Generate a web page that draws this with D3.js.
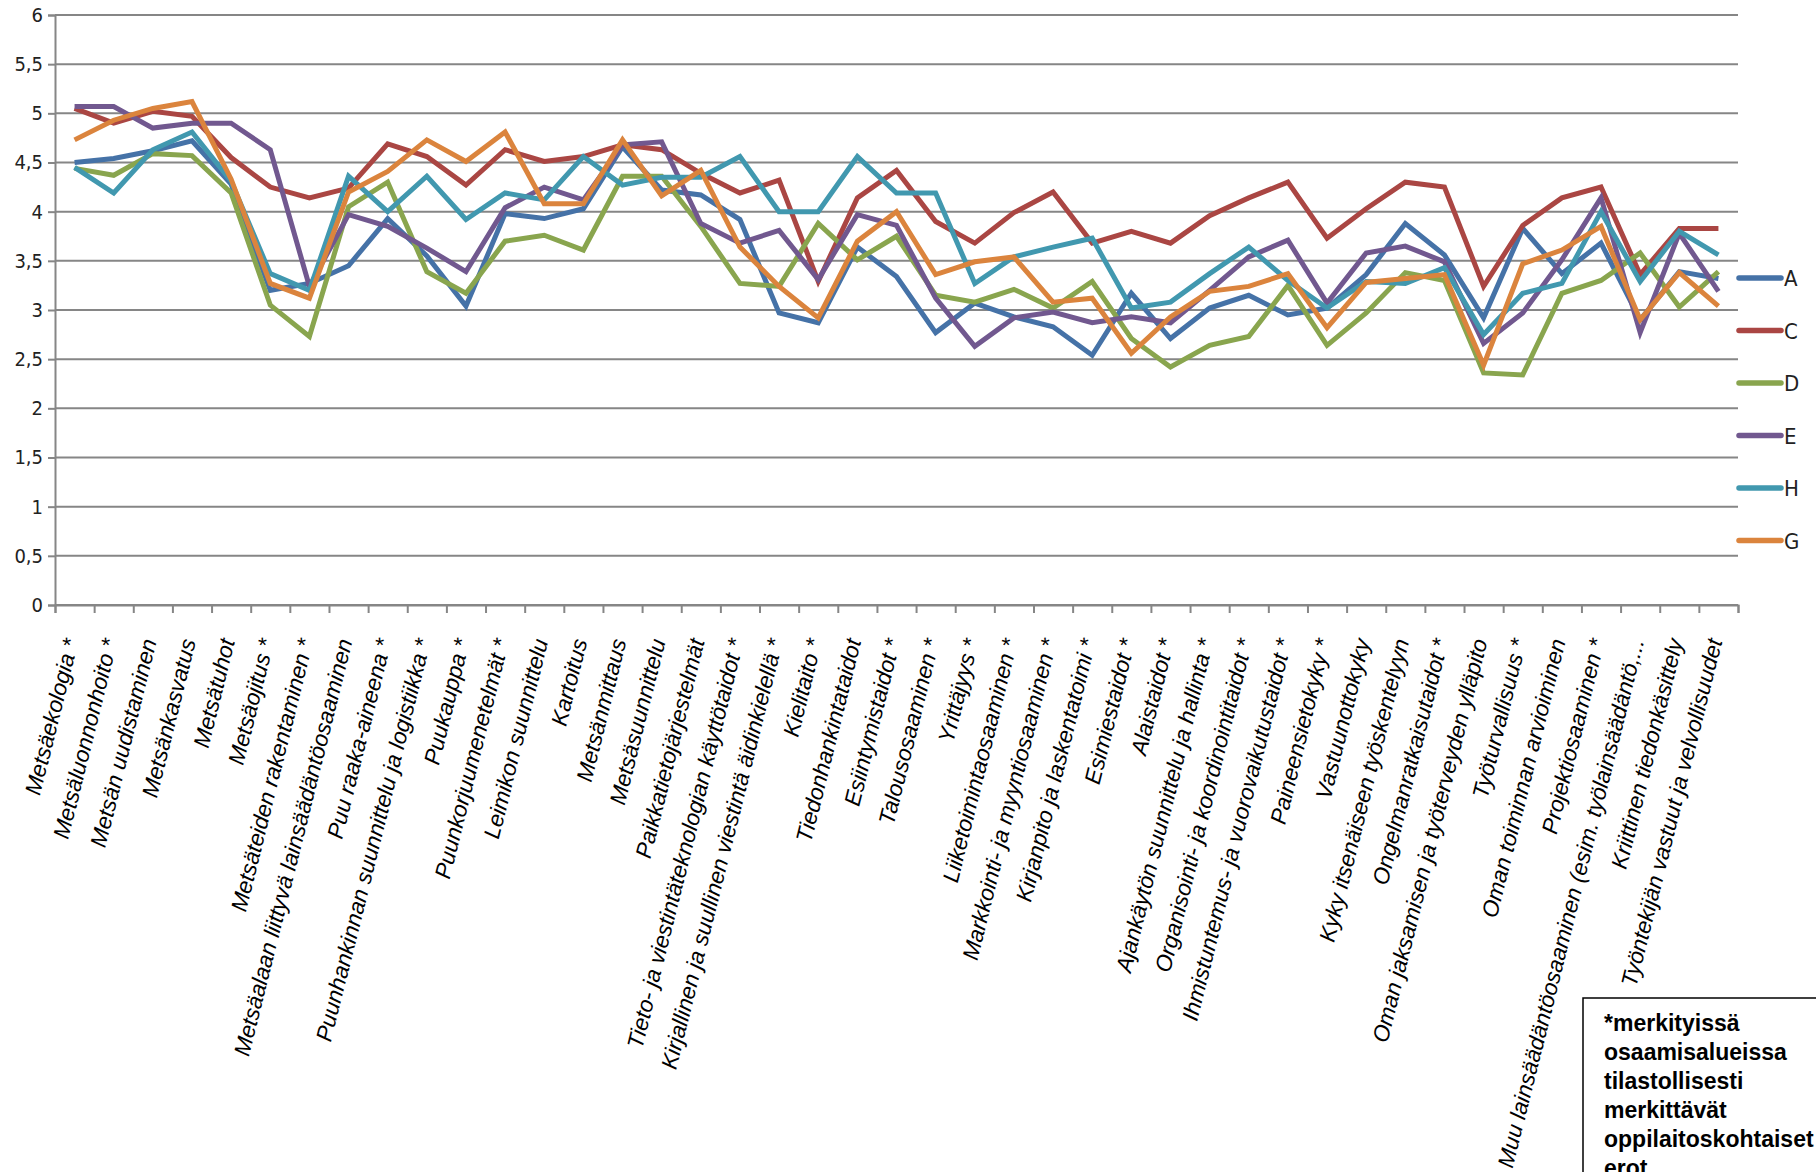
<!DOCTYPE html>
<html>
<head>
<meta charset="utf-8">
<script src="https://cdn.jsdelivr.net/npm/d3@7"></script>
<style>
body { margin: 0; background: #fff; }
</style>
</head>
<body>
<svg id="chart" width="1816" height="1172"></svg>
<script>
// osaamisalueet (x-akseli)
var categories = [
    "Metsäekologia *", "Metsäluonnonhoito *", "Metsän uudistaminen", "Metsänkasvatus",
    "Metsätuhot", "Metsäojitus *", "Metsäteiden rakentaminen *",
    "Metsäalaan liittyvä lainsäädäntöosaaminen", "Puu raaka-aineena *",
    "Puunhankinnan suunnittelu ja logistiikka *", "Puukauppa *", "Puunkorjuumenetelmät *",
    "Leimikon suunnittelu", "Kartoitus", "Metsänmittaus", "Metsäsuunnittelu",
    "Paikkatietojärjestelmät", "Tieto- ja viestintäteknologian käyttötaidot *",
    "Kirjallinen ja suullinen viestintä äidinkielellä *", "Kielitaito *",
    "Tiedonhankintataidot", "Esiintymistaidot *", "Talousosaaminen *", "Yrittäjyys *",
    "Liiketoimintaosaaminen *", "Markkointi- ja myyntiosaaminen *",
    "Kirjanpito ja laskentatoimi *", "Esimiestaidot *", "Alaistaidot *",
    "Ajankäytön suunnittelu ja hallinta *", "Organisointi- ja koordinointitaidot *",
    "Ihmistuntemus- ja vuorovaikutustaidot *", "Paineensietokyky *", "Vastuunottokyky",
    "Kyky itsenäiseen työskentelyyn", "Ongelmanratkaisutaidot *",
    "Oman jaksamisen ja työterveyden ylläpito", "Työturvallisuus *",
    "Oman toiminnan arvioiminen", "Projektiosaaminen *",
    "Muu lainsäädäntöosaaminen (esim. työlainsäädäntö,...",
    "Kriittinen tiedonkäsittely", "Työntekijän vastuut ja velvollisuudet"
];

var valuesA = [4.50, 4.54, 4.62, 4.72, 4.28, 3.20, 3.27, 3.45, 3.93, 3.55, 3.04, 3.98, 3.93, 4.03, 4.66,
    4.22, 4.17, 3.92, 2.97, 2.87, 3.64, 3.34, 2.77, 3.07, 2.93, 2.83, 2.54, 3.17, 2.71, 3.02, 3.15,
    2.95, 3.02, 3.36, 3.88, 3.56, 2.92, 3.83, 3.37, 3.68, 2.90, 3.39, 3.32];
var valuesC = [5.05, 4.90, 5.02, 4.97, 4.55, 4.25, 4.14, 4.24, 4.69, 4.56, 4.27, 4.63, 4.51, 4.56, 4.68,
    4.63, 4.39, 4.19, 4.32, 3.29, 4.14, 4.42, 3.90, 3.68, 3.99, 4.20, 3.68, 3.80, 3.68, 3.96, 4.14,
    4.30, 3.73, 4.03, 4.30, 4.25, 3.24, 3.86, 4.14, 4.25, 3.36, 3.83, 3.83];
var valuesD = [4.44, 4.37, 4.59, 4.57, 4.19, 3.05, 2.73, 4.05, 4.30, 3.39, 3.17, 3.70, 3.76, 3.61, 4.36,
    4.36, 3.85, 3.27, 3.24, 3.88, 3.51, 3.75, 3.15, 3.08, 3.21, 3.02, 3.29, 2.71, 2.42, 2.64, 2.73,
    3.25, 2.64, 2.97, 3.38, 3.30, 2.36, 2.34, 3.17, 3.30, 3.58, 3.03, 3.39];
var valuesE = [5.07, 5.07, 4.85, 4.90, 4.90, 4.63, 3.24, 3.97, 3.85, 3.63, 3.39, 4.04, 4.25, 4.12, 4.68,
    4.71, 3.88, 3.68, 3.81, 3.31, 3.97, 3.86, 3.12, 2.63, 2.92, 2.98, 2.87, 2.93, 2.87, 3.20, 3.54,
    3.71, 3.07, 3.58, 3.65, 3.49, 2.66, 2.97, 3.51, 4.14, 2.77, 3.78, 3.19];
var valuesH = [4.45, 4.19, 4.63, 4.81, 4.31, 3.37, 3.20, 4.36, 4.00, 4.36, 3.92, 4.19, 4.12, 4.56, 4.27,
    4.35, 4.35, 4.56, 4.00, 4.00, 4.56, 4.19, 4.19, 3.27, 3.54, 3.64, 3.73, 3.02, 3.08, 3.37, 3.64,
    3.30, 3.02, 3.29, 3.27, 3.43, 2.75, 3.17, 3.27, 4.00, 3.29, 3.80, 3.56];
var valuesG = [4.73, 4.93, 5.05, 5.12, 4.33, 3.27, 3.12, 4.20, 4.41, 4.73, 4.51, 4.81, 4.08, 4.08, 4.73,
    4.16, 4.42, 3.64, 3.24, 2.92, 3.70, 4.00, 3.36, 3.49, 3.54, 3.08, 3.12, 2.56, 2.93, 3.19, 3.24,
    3.37, 2.82, 3.28, 3.32, 3.36, 2.44, 3.47, 3.61, 3.85, 2.90, 3.38, 3.04];

var seriesNames = ["A", "C", "D", "E", "H", "G"];
var seriesColors = ["#4572A7", "#AA4643", "#89A54E", "#71588F", "#4198AF", "#DB843D"];
var yTicks = [0, 0.5, 1, 1.5, 2, 2.5, 3, 3.5, 4, 4.5, 5, 5.5, 6];
var noteLines = ["*merkityissä", "osaamisalueissa", "tilastollisesti", "merkittävät",
    "oppilaitoskohtaiset", "erot"];

var series = [valuesA, valuesC, valuesD, valuesE, valuesH, valuesG].map(function(v, i) {
    return {name: seriesNames[i], color: seriesColors[i], values: v};
});

var plotLeft = 55, plotRight = 1738, plotTop = 15, plotBottom = 605;
var chart = d3.select("#chart");

var x = d3.scaleLinear().domain([0, categories.length]).range([plotLeft, plotRight]);
var y = d3.scaleLinear().domain([0, 6]).range([plotBottom, plotTop]);

// vaakaviivat
chart.append("g")
    .selectAll("line")
    .data(yTicks)
    .enter()
    .append("line")
    .attr("x1", plotLeft)
    .attr("x2", plotRight)
    .attr("y1", function(d) { return y(d); })
    .attr("y2", function(d) { return y(d); })
    .attr("stroke", "#868686")
    .attr("stroke-width", 2);

// y-akseli
var yAxis = chart.append("g")
    .attr("transform", "translate(" + plotLeft + ",0)")
    .call(d3.axisLeft(y).tickValues(yTicks).tickSize(7).tickPadding(5)
        .tickFormat(function(d) { return String(d).replace(".", ","); }));
yAxis.select(".domain").attr("stroke", "#868686").attr("stroke-width", 2);
yAxis.selectAll(".tick line").attr("stroke", "#868686").attr("stroke-width", 2);
yAxis.selectAll(".tick text")
    .attr("font-family", "'Liberation Sans Narrow', 'DejaVu Sans Condensed', sans-serif")
    .attr("font-size", 20)
    .attr("fill", "#222");

// x-akseli
var xAxis = chart.append("g")
    .attr("transform", "translate(0," + plotBottom + ")")
    .call(d3.axisBottom(x).tickValues(d3.range(categories.length + 1)).tickSize(8)
        .tickFormat(""));
xAxis.select(".domain").attr("stroke", "#868686").attr("stroke-width", 2);
xAxis.selectAll(".tick line").attr("stroke", "#868686").attr("stroke-width", 2);

chart.append("g")
    .selectAll("text")
    .data(categories)
    .enter()
    .append("text")
    .attr("transform", function(d, i) {
        return "translate(" + (x(i + 0.5) + 4) + "," + (plotBottom + 36) + ") rotate(-76)";
    })
    .attr("text-anchor", "end")
    .attr("font-family", "'Liberation Sans', Arial, sans-serif")
    .attr("font-style", "italic")
    .attr("font-size", 22.5)
    .attr("fill", "#000")
    .text(function(d) { return d; });

// viivat
var line = d3.line()
    .x(function(d, i) { return x(i + 0.5); })
    .y(function(d) { return y(d); });

chart.append("g")
    .selectAll("path")
    .data(series)
    .enter()
    .append("path")
    .attr("d", function(d) { return line(d.values); })
    .attr("fill", "none")
    .attr("stroke", function(d) { return d.color; })
    .attr("stroke-width", 5)
    .attr("stroke-linejoin", "miter");

// selite
var legend = chart.append("g")
    .selectAll("g")
    .data(series)
    .enter()
    .append("g")
    .attr("transform", function(d, i) { return "translate(1739," + (278 + i * 52.5) + ")"; });

legend.append("line")
    .attr("x1", 0)
    .attr("x2", 42)
    .attr("stroke", function(d) { return d.color; })
    .attr("stroke-width", 5.5)
    .attr("stroke-linecap", "round");

legend.append("text")
    .attr("x", 45)
    .attr("y", 8)
    .attr("font-family", "'Liberation Sans Narrow', 'DejaVu Sans Condensed', sans-serif")
    .attr("font-size", 22)
    .attr("fill", "#222")
    .text(function(d) { return d.name; });

// huomautuslaatikko
chart.append("rect")
    .attr("x", 1583)
    .attr("y", 998)
    .attr("width", 260)
    .attr("height", 200)
    .attr("fill", "#fff")
    .attr("stroke", "#000")
    .attr("stroke-width", 1.5);

chart.append("g")
    .selectAll("text")
    .data(noteLines)
    .enter()
    .append("text")
    .attr("x", 1604)
    .attr("y", function(d, i) { return 1031 + i * 29; })
    .attr("font-family", "'Liberation Sans', Arial, sans-serif")
    .attr("font-weight", "bold")
    .attr("font-size", 23)
    .text(function(d) { return d; });
</script>
</body>
</html>
